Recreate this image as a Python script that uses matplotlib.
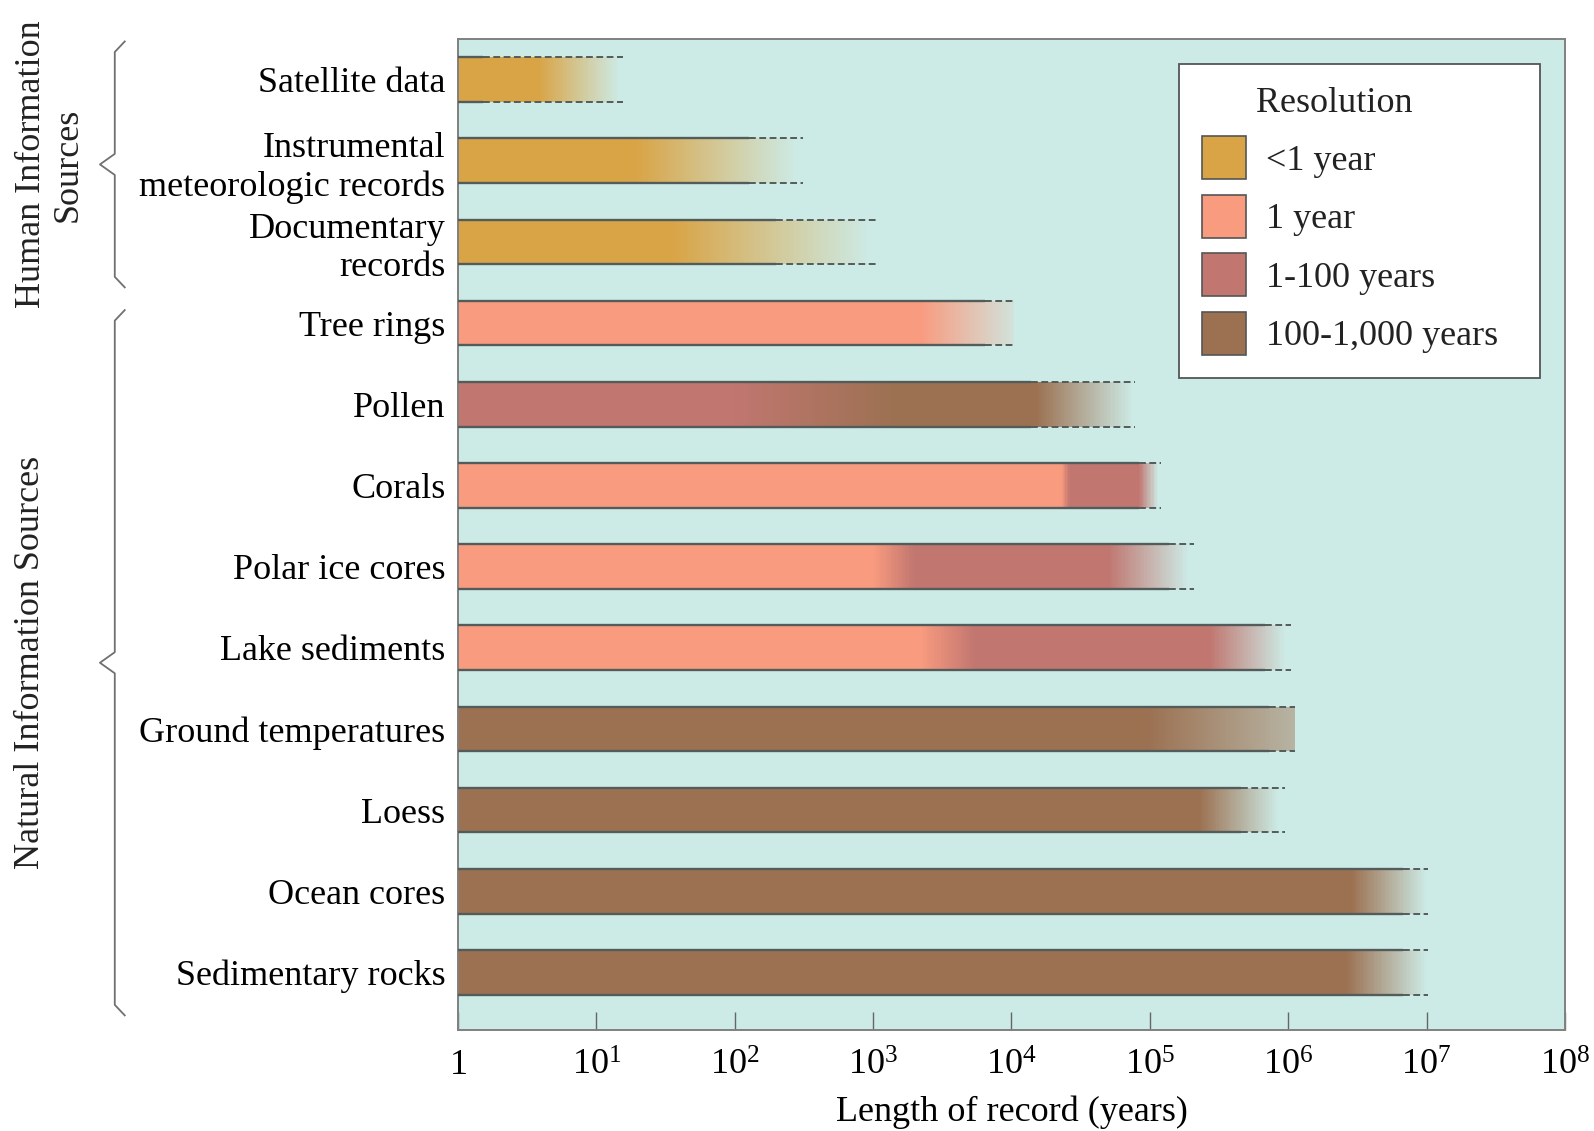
import numpy as np
import matplotlib
matplotlib.use("Agg")
import matplotlib.pyplot as plt
from matplotlib.colors import to_rgb
from matplotlib.patches import Patch
from matplotlib.ticker import NullLocator
from matplotlib.transforms import Affine2D, blended_transform_factory

# ---------------------------------------------------------------- data
sources = [
    "Satellite data",
    "Instrumental\nmeteorologic records",
    "Documentary\nrecords",
    "Tree rings",
    "Pollen",
    "Corals",
    "Polar ice cores",
    "Lake sediments",
    "Ground temperatures",
    "Loess",
    "Ocean cores",
    "Sedimentary rocks",
]

resolutions = ["<1 year", "1 year", "1-100 years", "100-1,000 years"]
res_colors = ["#d9a446", "#f99b7f", "#c17670", "#9c7152"]

# log10(years): outline solid up to here, then dashed up to the record length
solid_to = [0.18, 2.10, 2.30, 3.81, 4.14, 4.92, 5.14, 5.83, 5.86, 5.66, 6.83, 6.83]
record_to = [1.19, 2.49, 3.03, 4.02, 4.89, 5.08, 5.32, 6.02, 6.05, 5.98, 7.01, 7.01]

# resolution along each bar: (log10 years, resolution index, opacity)
bar_stops = [
    [(0, 0, 1), (0.58, 0, 1), (1.17, 0, 0)],
    [(0, 0, 1), (1.29, 0, 1), (2.45, 0, 0)],
    [(0, 0, 1), (1.55, 0, 1), (2.98, 0, 0)],
    [(0, 1, 1), (3.34, 1, 1), (4.02, 1, 0.1)],
    [(0, 2, 1), (1.98, 2, 1), (3.15, 3, 1), (4.18, 3, 1), (4.88, 3, 0)],
    [(0, 1, 1), (4.36, 1, 1), (4.42, 2, 1), (4.92, 2, 1), (5.06, 2, 0)],
    [(0, 1, 1), (3.00, 1, 1), (3.30, 2, 1), (4.70, 2, 1), (5.28, 2, 0)],
    [(0, 1, 1), (3.34, 1, 1), (3.74, 2, 1), (5.43, 2, 1), (5.98, 2, 0)],
    [(0, 3, 1), (4.99, 3, 1), (6.05, 3, 0.45)],
    [(0, 3, 1), (5.36, 3, 1), (5.93, 3, 0)],
    [(0, 3, 1), (6.46, 3, 1), (7.00, 3, 0)],
    [(0, 3, 1), (6.42, 3, 1), (7.00, 3, 0)],
]

groups = ["Human Information\nSources", "Natural Information Sources"]
group_top = [-0.47, 2.84]
group_bottom = [2.56, 11.53]

# ---------------------------------------------------------------- style
BG = "#cdebe6"
EDGE = "#535c5b"
FS = 26

plt.rcParams["font.family"] = ["Liberation Serif", "DejaVu Serif"]
plt.rcParams["mathtext.fontset"] = "custom"
plt.rcParams["mathtext.rm"] = "Liberation Serif"
plt.rcParams["mathtext.it"] = "Liberation Serif:italic"
plt.rcParams["text.color"] = "#222222"

fig = plt.figure(figsize=(15.94, 11.31), dpi=100)
ax = fig.add_axes([0.2873, 0.0893, 0.6945, 0.8762])
ax.set_facecolor(BG)
ax.set_xscale("log")
ax.set_xlim(1, 1e8)
ax.set_ylim(11.71, -0.5)

bar_h = 0.55
step = 0.01

for i, stops in enumerate(bar_stops):
    xs = np.array([s[0] for s in stops])
    rgb = np.array([to_rgb(res_colors[s[1]]) for s in stops])
    alpha = np.array([s[2] for s in stops])

    edges = np.arange(0, xs[-1] + step / 2, step)
    mids = (edges[:-1] + edges[1:]) / 2
    cols = np.column_stack([np.interp(mids, xs, rgb[:, k]) for k in range(3)]
                           + [np.interp(mids, xs, alpha)])
    ax.barh(np.full(len(mids), i), 10 ** edges[1:] - 10 ** edges[:-1],
            left=10 ** edges[:-1], height=bar_h, color=cols,
            linewidth=0, antialiased=False, zorder=2)

    for yy in (i - bar_h / 2, i + bar_h / 2):
        ax.plot([1, 10 ** solid_to[i]], [yy, yy], color=EDGE, lw=1.7,
                solid_capstyle="butt", zorder=3)
        ax.plot([10 ** solid_to[i], 10 ** record_to[i]], [yy, yy], color=EDGE,
                lw=1.4, ls=(0, (3.5, 1.8)), zorder=3)

# ---------------------------------------------------------------- axes
ax.set_xticks([10 ** k for k in range(9)])
ax.set_xticklabels(["$1$"] + [f"$10^{{{k}}}$" for k in range(1, 9)])
ax.xaxis.set_minor_locator(NullLocator())
ax.tick_params(axis="x", direction="in", length=13, width=1, color="#666666",
               pad=14, labelsize=FS)
ax.set_yticks(range(len(sources)))
ax.set_yticklabels(sources)
ax.tick_params(axis="y", length=0, pad=9, labelsize=FS)
for t in ax.get_yticklabels():
    t.set_linespacing(1.22)
ax.set_xlabel("Length of record (years)", fontsize=FS, labelpad=9)
for sp in ax.spines.values():
    sp.set_color("#808080")
    sp.set_linewidth(1.4)

handles = [Patch(facecolor=c, edgecolor="#555555", linewidth=1.2) for c in res_colors]
leg = ax.legend(handles, resolutions, title="Resolution", alignment="left",
                loc="upper right", bbox_to_anchor=(0.6513, 0.9748, 0.3261, 0),
                mode="expand", borderaxespad=0, fontsize=FS, title_fontsize=FS,
                fancybox=False, edgecolor="#555555", framealpha=1,
                handlelength=1.2, handleheight=1.44, handletextpad=0.55,
                labelspacing=0.44, borderpad=0.65)
leg.get_frame().set_linewidth(1.3)
title = leg.get_title()
title.set_transform(title.get_transform() + Affine2D().translate(54, 0))

# ---------------------------------------------------------------- braces
tr = blended_transform_factory(ax.transAxes, ax.transData)
x_line, x_tip, x_point = -0.310, -0.301, -0.3234
d = 0.13
for top, bot in zip(group_top, group_bottom):
    mid = (top + bot) / 2
    bx = [x_tip, x_line, x_line, x_point, x_line, x_line, x_tip]
    by = [top, top + d, mid - d, mid, mid + d, bot - d, bot]
    ax.plot(bx, by, color="#707070", lw=1.3, transform=tr, clip_on=False)

label_x = [-0.3686, -0.3857]
for g, lx, top, bot in zip(groups, label_x, group_top, group_bottom):
    ax.text(lx, (top + bot) / 2, g, transform=tr, rotation=90, ha="center",
            va="center", fontsize=FS, linespacing=1.15, multialignment="center")

fig.savefig("out.png", dpi=100, facecolor="white")
